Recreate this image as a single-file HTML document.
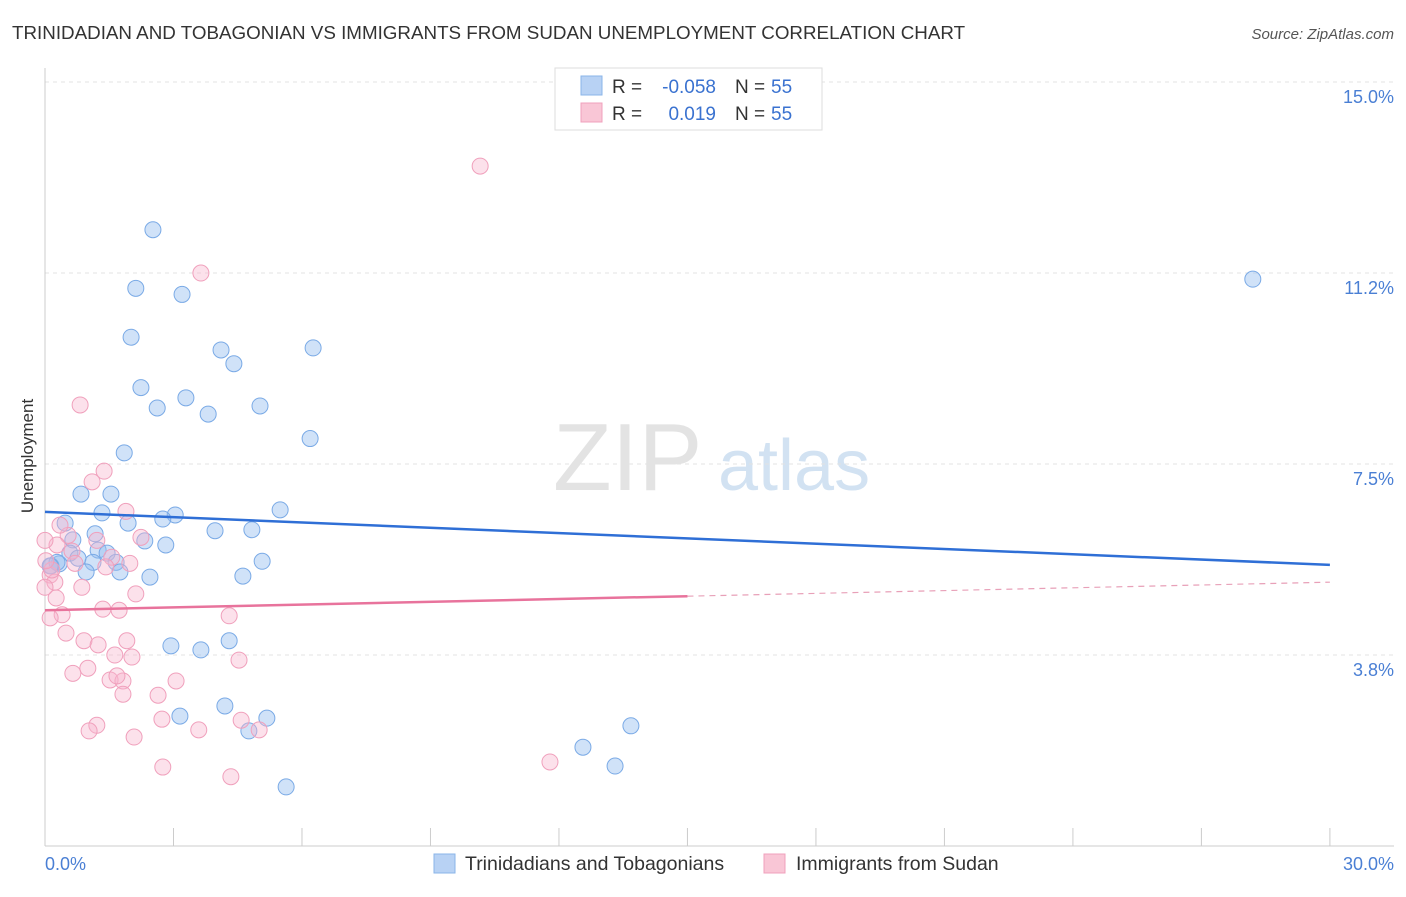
<!DOCTYPE html>
<html><head><meta charset="utf-8"><style>
body{margin:0;background:#fff;font-family:"Liberation Sans",sans-serif;}
svg text{font-family:"Liberation Sans",sans-serif;}
</style></head><body>
<svg id="chart" width="1406" height="892" xmlns="http://www.w3.org/2000/svg">
<text x="12" y="39" font-size="18.8" fill="#333">TRINIDADIAN AND TOBAGONIAN VS IMMIGRANTS FROM SUDAN UNEMPLOYMENT CORRELATION CHART</text>
<text x="1394" y="39" font-size="15" fill="#555" text-anchor="end" font-style="italic">Source: ZipAtlas.com</text>
<text x="553" y="490" font-size="96" fill="#ddd" font-family="Liberation Serif" opacity="0.8">ZIP</text>
<text x="718" y="490" font-size="72" fill="#c8dcf0" opacity="0.8">atlas</text>
<g id="grid"></g><g id="pts"></g><g id="lines"></g>
<text transform="translate(33,456) rotate(-90)" font-size="17" fill="#333" text-anchor="middle">Unemployment</text>
<text x="45" y="870" font-size="18" fill="#4a7fd4">0.0%</text>
<text x="1394" y="870" font-size="18" fill="#4a7fd4" text-anchor="end">30.0%</text>
<g>
<rect x="555" y="68" width="267" height="62" fill="#fff" stroke="#ddd"/>
<rect x="581" y="76" width="21" height="19" fill="#b8d2f4" stroke="#8ab4e8"/>
<rect x="581" y="103" width="21" height="19" fill="#f9c6d6" stroke="#f0a0bc"/>
<text x="612" y="93" font-size="19" fill="#333">R =</text>
<text x="716" y="93" font-size="19" fill="#3a72d0" text-anchor="end">-0.058</text>
<text x="735" y="93" font-size="19" fill="#333">N =</text>
<text x="771" y="93" font-size="19" fill="#3a72d0">55</text>
<text x="612" y="120" font-size="19" fill="#333">R =</text>
<text x="716" y="120" font-size="19" fill="#3a72d0" text-anchor="end">0.019</text>
<text x="735" y="120" font-size="19" fill="#333">N =</text>
<text x="771" y="120" font-size="19" fill="#3a72d0">55</text>
</g>
<g>
<rect x="434" y="854" width="21" height="19" fill="#b8d2f4" stroke="#8ab4e8"/>
<text x="465" y="870" font-size="19.5" fill="#333">Trinidadians and Tobagonians</text>
<rect x="764" y="854" width="21" height="19" fill="#f9c6d6" stroke="#f0a0bc"/>
<text x="796" y="870" font-size="19.5" fill="#333">Immigrants from Sudan</text>
</g>
</svg>
<script>
const yTicks=[3.75,7.5,11.25,15];
const yTickLabels=["3.8%","7.5%","11.2%","15.0%"];
const xTicks=[0,3,6,9,12,15,18,21,24,27,30];
const blueX=[2.52,2.12,3.2,2.01,4.11,6.26,4.41,2.24,3.29,2.62,5.02,3.81,1.85,6.19,0.84,1.54,1.33,5.49,3.04,2.75,0.47,1.94,3.97,4.83,1.17,0.65,2.33,2.82,1.24,1.45,0.58,0.77,1.12,5.07,0.33,0.14,4.62,1.66,0.28,0.12,0.96,1.75,2.45,2.94,4.3,3.64,4.2,3.15,5.18,4.76,12.56,13.68,13.31,5.63,28.2];
const blueY=[12.1,10.95,10.83,9.99,9.74,9.78,9.47,9.0,8.8,8.6,8.64,8.48,7.72,8.0,6.91,6.91,6.54,6.6,6.5,6.42,6.34,6.34,6.19,6.21,6.13,6.01,5.99,5.91,5.81,5.75,5.75,5.65,5.57,5.59,5.54,5.5,5.3,5.57,5.57,5.5,5.38,5.38,5.28,3.93,4.03,3.85,2.75,2.55,2.51,2.26,1.94,2.36,1.57,1.16,11.13];
const pinkX=[10.16,3.64,0.82,1.38,1.1,1.89,2.24,0.54,1.21,0.28,0.63,1.56,1.98,1.42,0.7,0.12,0.23,0,0.86,2.12,0.26,1.35,1.73,0.4,4.3,0.12,0.49,0.91,1.24,1.91,1.63,2.03,4.53,1.0,0.65,3.06,1.52,1.82,1.68,1.82,2.64,2.73,4.58,1.21,1.03,3.59,5.0,2.08,2.75,4.34,11.79,0,0.35,0.16,0.02];
const pinkY=[13.35,11.25,8.66,7.36,7.15,6.57,6.06,6.1,6.0,5.91,5.79,5.67,5.55,5.48,5.55,5.32,5.18,5.08,5.08,4.95,4.87,4.65,4.63,4.54,4.52,4.48,4.18,4.03,3.95,4.03,3.75,3.71,3.65,3.49,3.39,3.24,3.26,3.24,3.34,2.98,2.96,2.49,2.47,2.37,2.26,2.28,2.28,2.14,1.55,1.36,1.65,6.0,6.3,5.42,5.6];
const blueTrend=[6.56,5.52];
const pinkTrend=[4.63,5.18];
const X=v=>45+v*42.83, Y=v=>846-v*50.93;
const NS="http://www.w3.org/2000/svg";
function mk(t,a,p){const e=document.createElementNS(NS,t);for(const k in a)e.setAttribute(k,a[k]);p.appendChild(e);return e;}
const g=document.getElementById('grid');
yTicks.forEach((t,i)=>{
 const l=mk('line',{x1:45,x2:1394,y1:Y(t),y2:Y(t),stroke:'#e3e3e3','stroke-dasharray':'4,4'},g);
 
 
 const tx=mk('text',{x:1394,y:Y(t)+21,'font-size':18,fill:'#4a7fd4','text-anchor':'end'},g);
 tx.textContent=yTickLabels[i];
 
 
});
const ax=mk('line',{x1:45,x2:45,y1:68,y2:846,stroke:'#ccc'},g);


const bx=mk('line',{x1:45,x2:1394,y1:846,y2:846,stroke:'#ccc'},g);


xTicks.forEach(t=>{
 const l=mk('line',{x1:X(t),x2:X(t),y1:828,y2:846,stroke:'#ccc'},g);
 
 
});
const p=document.getElementById('pts');
blueX.forEach((v,i)=>{
 const c=mk('circle',{cx:X(v),cy:Y(blueY[i]),r:8,fill:'rgba(150,190,240,0.45)',stroke:'#7aaae6','stroke-width':1},p);
 
 
});
pinkX.forEach((v,i)=>{
 const c=mk('circle',{cx:X(v),cy:Y(pinkY[i]),r:8,fill:'rgba(248,180,205,0.4)',stroke:'#f0a0bc','stroke-width':1},p);
 
 
});
const L=document.getElementById('lines');
const bl=mk('line',{x1:X(0),y1:Y(blueTrend[0]),x2:X(30),y2:Y(blueTrend[1]),stroke:'#2f6fd6','stroke-width':2.5},L);


const pm=pinkTrend[0]+(pinkTrend[1]-pinkTrend[0])*0.5;
const pl=mk('line',{x1:X(0),y1:Y(pinkTrend[0]),x2:X(15),y2:Y(pm),stroke:'#e8739c','stroke-width':2.5},L);


const pd=mk('line',{x1:X(15),y1:Y(pm),x2:X(30),y2:Y(pinkTrend[1]),stroke:'#e8a0b8','stroke-width':1.2,'stroke-dasharray':'6,5'},L);


</script>
</body></html>
